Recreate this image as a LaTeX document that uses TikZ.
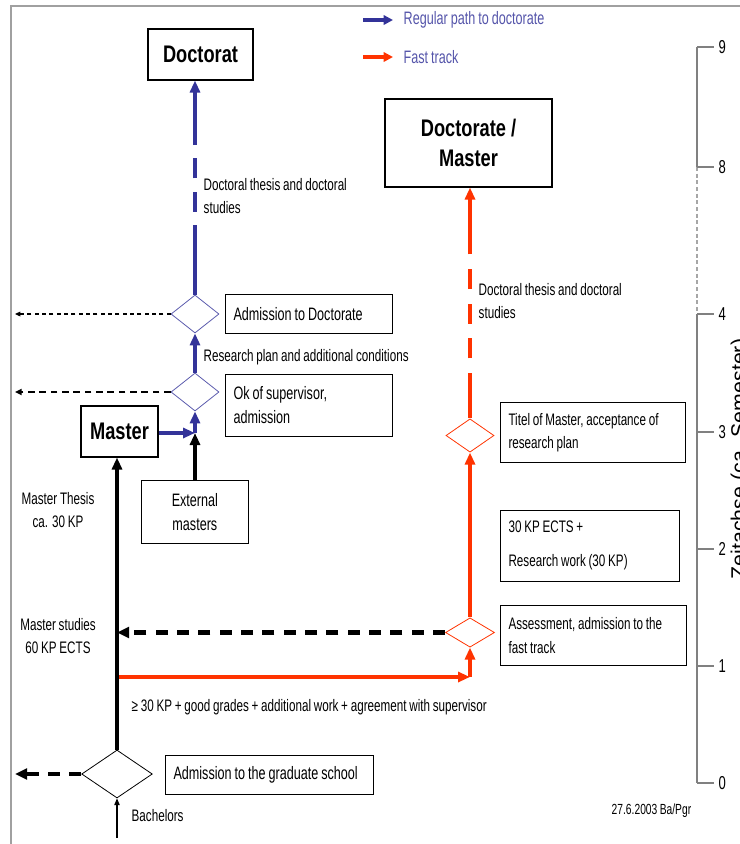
\documentclass[tikz,border=0pt]{standalone}
\usepackage{fontspec}
\setmainfont{Liberation Sans}[FakeStretch=0.70,WordSpace=0.85]
\newfontfamily\titlefont{Liberation Sans}[FakeStretch=0.76]
\newfontfamily\axisfont{Liberation Sans}
\usetikzlibrary{arrows.meta,shapes.geometric}

\definecolor{pathblue}{HTML}{333399}
\definecolor{fastred}{HTML}{FF3300}
\definecolor{legendtxt}{HTML}{5555AA}
\definecolor{framegray}{HTML}{A0A0A0}
\definecolor{axisgray}{HTML}{808080}

\begin{document}
\begin{tikzpicture}[
  x=0.75pt, y=-0.75pt,
  font=\fontsize{12.5}{17.5}\selectfont,
  >={Triangle[length=9pt,width=7.5pt]},
  title/.style={draw,line width=.8pt,inner sep=0pt,align=center,font=\titlefont\fontsize{18}{22.5}\selectfont\bfseries},
  tbox/.style={draw,line width=.8pt,anchor=north west,align=flush left,inner xsep=6pt,inner ysep=0pt},
  bigtext/.style={font=\fontsize{13.5}{18}\selectfont},
  gate/.style={diamond,draw,line width=.6pt,inner sep=0pt},
  regpath/.style={pathblue,line width=2.8pt},
  fastpath/.style={fastred,line width=2.8pt},
  mainpath/.style={line width=2.6pt},
  exitthin/.style={->,>={Triangle[length=4pt,width=3.5pt]},line width=.8pt,dash pattern=on 3pt off 2.5pt},
  exitmid/.style={->,>={Triangle[length=5pt,width=4.5pt]},line width=1.4pt,dash pattern=on 5pt off 3.5pt},
  exitthick/.style={->,>={Triangle[length=9pt,width=8pt]},line width=3.2pt,dash pattern=on 9pt off 7pt}
]
\useasboundingbox (0,0) rectangle (740,844);
\draw[framegray,line width=1pt] (11,844) -- (11,6) -- (740,6);

% legend
\coordinate (lg1a) at (363,20); \coordinate (lg1b) at (393,20);
\coordinate (lg2a) at (363,57); \coordinate (lg2b) at (393,57);
\draw[regpath,->,>={Triangle[length=7pt,width=7pt]}] (lg1a) -- (lg1b);
\draw[fastpath,->,>={Triangle[length=7pt,width=7pt]}] (lg2a) -- (lg2b);
\node[anchor=west,text=legendtxt,font=\fontsize{13.5}{16}\selectfont] (leg1) at (399,20) {Regular path to doctorate};
\node[anchor=west,text=legendtxt,font=\fontsize{13.5}{16}\selectfont] (leg2) at (399,57) {Fast track};

% regular path
\node[title,minimum width=78.75pt,minimum height=38.25pt] (doc) at (200.5,54.5) {Doctorat};
\node[gate,pathblue!80,minimum width=36pt,minimum height=28.5pt] (dadm) at (195,314) {};
\node[tbox,bigtext,text width=113pt,minimum height=29pt] (adm) at (225,294) {Admission to Doctorate};
\node[gate,pathblue!80,minimum width=36pt,minimum height=28.5pt] (dok) at (195,392) {};
\node[tbox,bigtext,text width=113pt,minimum height=46.5pt] (ok) at (225,374) {Ok of supervisor,\\admission};
\node[title,minimum width=57.75pt,minimum height=38.25pt] (master) at (119.5,431.5) {Master};
\node[tbox,bigtext,align=center,text width=68pt,minimum height=47pt] (ext) at (141,480) {External\\masters};
\coordinate (bA) at (195,225);
\coordinate (bB) at (195,137);
\coordinate (j) at (195,433);
\draw[regpath] (dadm.north) -- (bA);
\draw[regpath,dash pattern=on 15pt off 10pt,dash phase=15pt] (bA) -- (bB);
\draw[regpath,->] (bB) -- (dadm.north |- doc.south);
\node[anchor=west,align=left] (lthesis) at (199,196) {Doctoral thesis and doctoral\\studies};
\draw[regpath,->] (dok.north) -- (dadm.south);
\node[anchor=west] (lplan) at (199,357) {Research plan and additional conditions};
\draw[regpath,->] (master.east |- j) -- (j);
\draw[mainpath,->] (j |- ext.north) -- (j);
\draw[regpath,->] (j) -- (dok.south);

% fast track
\node[title,minimum width=125.25pt,minimum height=66pt] (docm) at (468.5,143) {Doctorate /\\Master};
\node[gate,fastred,minimum width=36pt,minimum height=25pt] (dtitel) at (470,435.5) {};
\node[tbox,text width=126.75pt,minimum height=45pt] (titel) at (500,402) {Titel of Master, acceptance of\\research plan};
\node[tbox,text width=122.25pt,minimum height=53pt] (ects) at (500,510) {30 KP ECTS +\\[8pt]Research work (30 KP)};
\node[gate,fastred,minimum width=36.75pt,minimum height=22pt] (dfast) at (470,632.5) {};
\node[tbox,text width=127.5pt,minimum height=45pt] (assess) at (500,605) {Assessment, admission to the\\fast track};
\coordinate (rA) at (470,373);
\coordinate (rB) at (470,253);
\coordinate (rs) at (117,677);
\coordinate (rc) at (470,677);
\draw[fastpath] (dtitel.north) -- (rA);
\draw[fastpath,dash pattern=on 15pt off 11pt,dash phase=15pt] (rA) -- (rB);
\draw[fastpath,->] (rB) -- (dtitel.north |- docm.south);
\node[anchor=west,align=left] (lthesis2) at (474,301) {Doctoral thesis and doctoral\\studies};
\draw[fastpath,->] (dfast.north) -- (dtitel.south);
\draw[fastpath,->] (rs) -- (rc);
\draw[fastpath,->] (rc) -- (dfast.south);
\node[anchor=west] (lcond) at (127,707) {≥ 30 KP + good grades + additional work + agreement with supervisor};

% master studies
\node[gate,minimum width=53pt,minimum height=36pt] (dgrad) at (117,774) {};
\node[tbox,bigtext,text width=144pt,minimum height=29pt] (grad) at (165,755) {Admission to the graduate school};
\coordinate (bach) at (117,838);
\draw[line width=.8pt,->,>={Triangle[length=5pt,width=4pt]}] (bach) -- (dgrad.south);
\node[anchor=west] (lbach) at (127,816) {Bachelors};
\draw[mainpath,->] (dgrad.north) -- (dgrad.north |- master.south);
\node[align=center] (lthesis3) at (58,510) {Master Thesis\\ca. 30 KP};
\node[align=center] (lstudies) at (58,636) {Master studies\\60 KP ECTS};
\coordinate (ms) at (117,632.5);
\draw[exitthick] (dfast.west) -- (ms);

% leaving
\coordinate (out1) at (15,314);
\coordinate (out2) at (15,392);
\coordinate (out3) at (15,774);
\draw[exitthin] (dadm.west) -- (out1);
\draw[exitmid] (dok.west) -- (out2);
\draw[exitthick] (dgrad.west) -- (out3);

% time axis
\draw[axisgray,line width=1pt] (697,47) -- (697,167);
\draw[axisgray!70,line width=.8pt,dash pattern=on 3pt off 2pt] (697,167) -- (697,314);
\draw[axisgray,line width=1pt] (697,314) -- (697,783);
\foreach \v/\y in {9/47,8/167,4/314,3/432,2/549,1/666,0/783}
  \draw[axisgray,line width=1pt] (697,\y) -- (714,\y) node[right,black,inner xsep=3pt,font=\fontsize{14}{16}\selectfont] {\v};
\node[rotate=90,anchor=base,font=\axisfont\fontsize{16}{18}\selectfont] (zeit) at (746,459) {Zeitachse (ca. Semester)};
\node[anchor=west,font=\fontsize{11}{13}\selectfont] (stamp) at (607,811) {27.6.2003 Ba/Pgr};
\end{tikzpicture}
\end{document}
